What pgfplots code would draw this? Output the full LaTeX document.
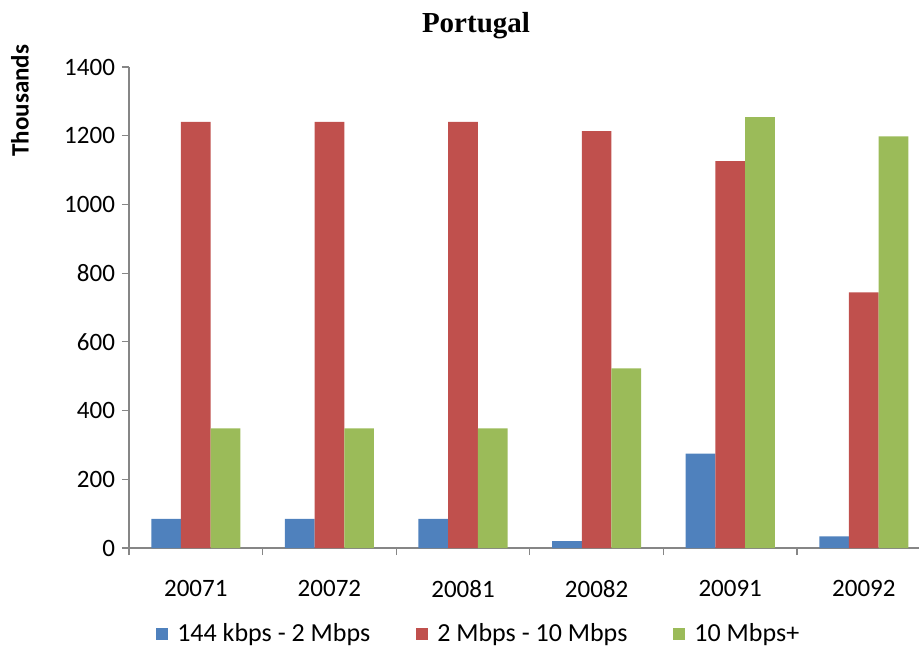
\documentclass[border=0pt]{standalone}
\usepackage{fontspec}
\setmainfont{Carlito}
\newfontfamily\titlefont{Liberation Serif}
\usepackage{pgfplots}
\pgfplotsset{compat=1.18}
\definecolor{cblue}{HTML}{4F81BD}
\definecolor{cred}{HTML}{C0504D}
\definecolor{cgreen}{HTML}{9BBB59}
\definecolor{axgray}{HTML}{868686}
\begin{document}
\begin{tikzpicture}
\useasboundingbox (-64.5pt,-50pt) rectangle (395pt,274pt);
\begin{axis}[
  at={(0pt,0pt)}, anchor=south west,
  scale only axis, width=395pt, height=240.5pt,
  ymin=0, ymax=1400, ytick={0,200,...,1400},
  xmin=-0.5, xmax=5.413,
  axis lines*=left,
  axis line style={draw=axgray, line width=0.6pt},
  tick style={draw=axgray, line width=0.6pt},
  tick align=outside, major tick length=3.5pt,
  ybar=0pt, bar width=14.85pt,
  legend image code/.code={\fill[#1] (0pt,-3pt) rectangle (6pt,3pt); \path (8.5pt,0pt);},
  xtick={-0.5,0.5,1.5,2.5,3.5,4.5},
  xticklabels={20071,20072,20081,20082,20091,20092},
  x tick label style={xshift=33.4pt, anchor=north, yshift=-9pt},
  /pgf/number format/assume math mode=true,
  /pgf/number format/1000 sep={},
  tick label style={font=\fontsize{12.5}{15}\selectfont},
  title={Portugal},
  every axis title/.style={at={(axis description cs:0.4392,1.085)}, anchor=center, font=\titlefont\bfseries\fontsize{14.5}{17}\selectfont},
  ylabel={Thousands},
  every axis y label/.style={at={(axis description cs:-0.138,0.930)}, rotate=90, anchor=center, font=\bfseries\fontsize{12.5}{15}\selectfont},
  legend columns=3,
  legend style={at={(axis description cs:0.444,-0.179)}, anchor=center, draw=none, fill=none,
    font=\fontsize{13}{15}\selectfont,
    /tikz/every even column/.append style={column sep=21pt}},
]
\addplot[fill=cblue, draw=none] coordinates {(0,85) (1,85) (2,85) (3,20) (4,275) (5,34)};
\addplot[fill=cred, draw=none] coordinates {(0,1240) (1,1240) (2,1240) (3,1213) (4,1126) (5,744)};
\addplot[fill=cgreen, draw=none] coordinates {(0,348) (1,348) (2,348) (3,523) (4,1254) (5,1198)};
\legend{144 kbps - 2 Mbps, 2 Mbps - 10 Mbps, 10 Mbps+}
\end{axis}
\end{tikzpicture}
\end{document}
